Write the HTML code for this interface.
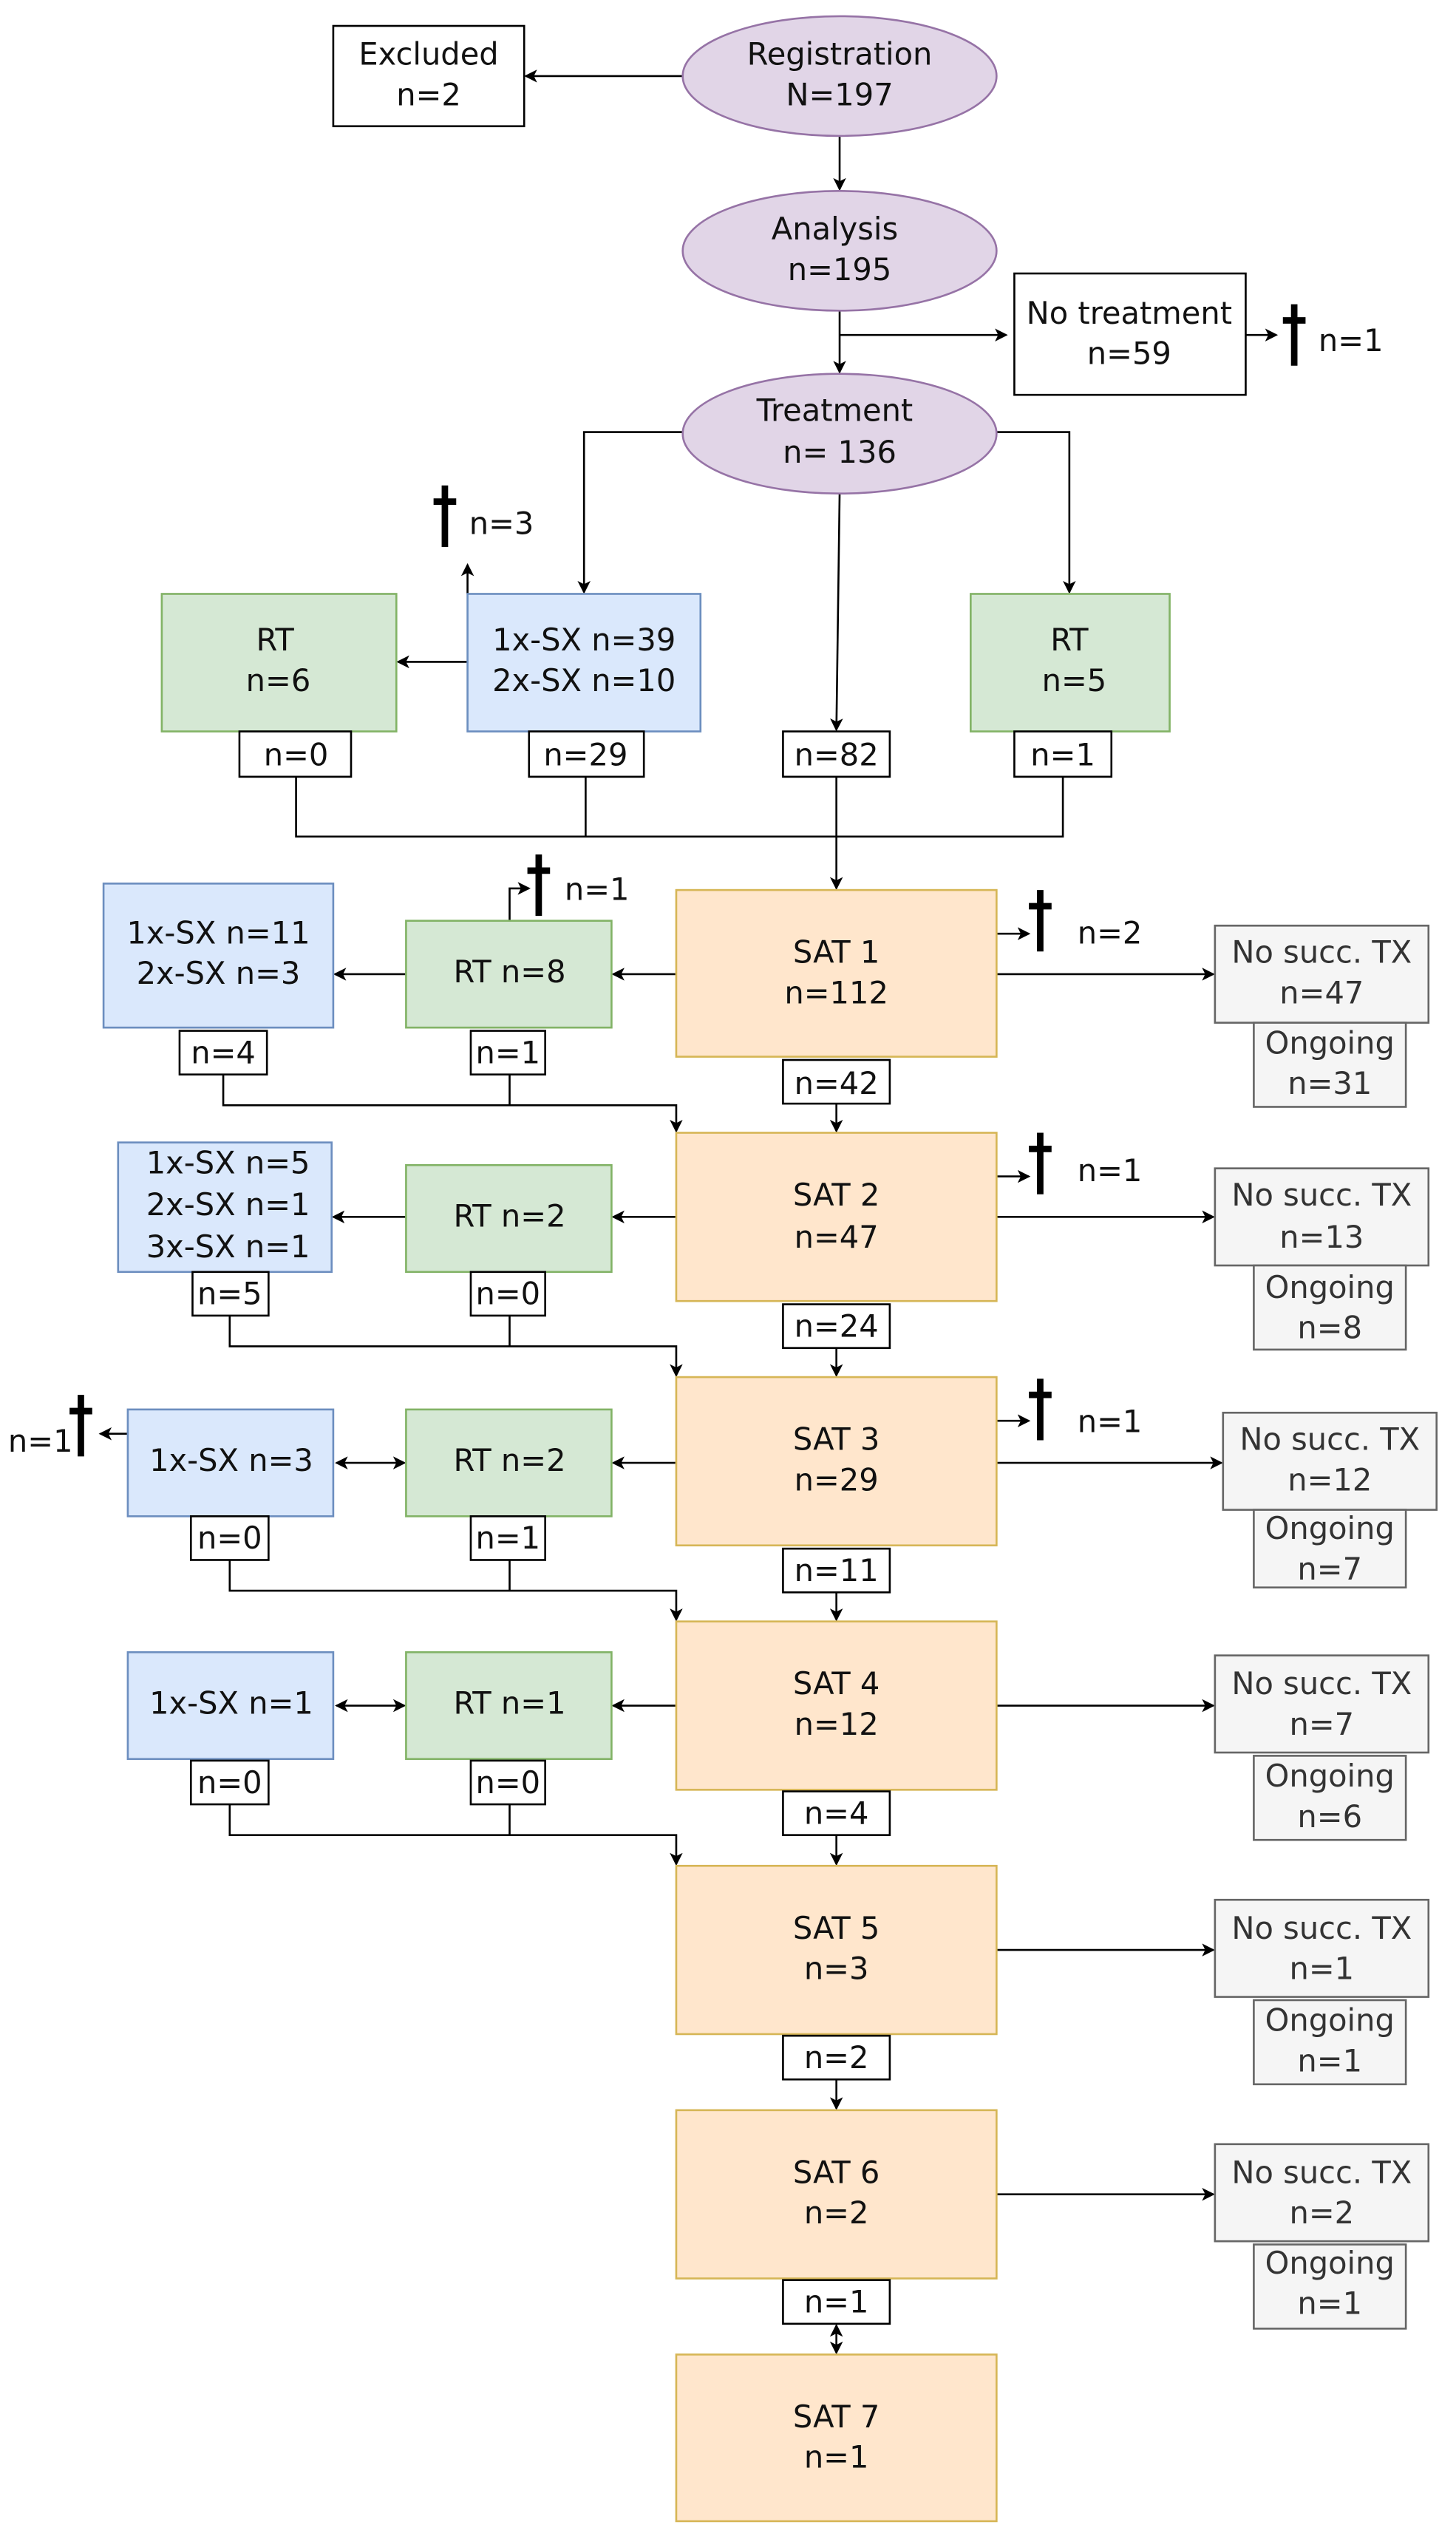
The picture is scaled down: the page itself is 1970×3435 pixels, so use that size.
<!DOCTYPE html>
<html><head><meta charset="utf-8"><style>
html,body{margin:0;padding:0;background:#fff;}
svg{display:block;}
text{font-family:"DejaVu Sans","Liberation Sans",sans-serif;font-size:19px;text-anchor:middle;dominant-baseline:middle;fill:#111;}
.g text,text.g{fill:#333;}
</style></head><body>
<svg width="1970" height="3435" viewBox="0 0 900 1569" preserveAspectRatio="none" xmlns="http://www.w3.org/2000/svg">
<defs>
<marker id="a" markerWidth="8" markerHeight="8" refX="7" refY="4" orient="auto" markerUnits="userSpaceOnUse"><path d="M0,0 L8,4 L0,8 L2,4 z" fill="#000"/></marker>
<marker id="s" markerWidth="8" markerHeight="8" refX="1" refY="4" orient="auto" markerUnits="userSpaceOnUse"><path d="M8,0 L0,4 L8,8 L6,4 z" fill="#000"/></marker>
<g id="dg"><line x1="0" y1="0" x2="0" y2="38" stroke="#000" stroke-width="4"/><line x1="-7" y1="10" x2="7" y2="10" stroke="#000" stroke-width="4"/></g>
</defs>
<g fill="none" stroke="#000" stroke-width="1.2">
<!-- top -->
<line x1="422" y1="47" x2="325" y2="47" marker-end="url(#a)"/>
<line x1="519" y1="84" x2="519" y2="117" marker-end="url(#a)"/>
<line x1="519" y1="192" x2="519" y2="230" marker-end="url(#a)"/>
<line x1="519" y1="207" x2="622" y2="207" marker-end="url(#a)"/>
<line x1="770" y1="207" x2="789" y2="207" marker-end="url(#a)"/>
<polyline points="422,267 361,267 361,366" marker-end="url(#a)"/>
<polyline points="616,267 661,267 661,366" marker-end="url(#a)"/>
<line x1="519" y1="305" x2="517" y2="451" marker-end="url(#a)"/>
<line x1="289" y1="409" x2="246" y2="409" marker-end="url(#a)"/>
<line x1="289" y1="367" x2="289" y2="349" marker-end="url(#a)"/>
<polyline points="183,480 183,517 657,517 657,480"/>
<line x1="362" y1="480" x2="362" y2="517"/>
<line x1="517" y1="480" x2="517" y2="549" marker-end="url(#a)"/>
<!-- SAT1 -->
<line x1="418" y1="602" x2="379" y2="602" marker-end="url(#a)"/>
<line x1="251" y1="602" x2="207" y2="602" marker-end="url(#a)"/>
<polyline points="315,569 315,549 327,549" marker-end="url(#a)"/>
<line x1="616" y1="577" x2="636" y2="577" marker-end="url(#a)"/>
<line x1="616" y1="602" x2="750" y2="602" marker-end="url(#a)"/>
<polyline points="138,664 138,683 418,683 418,699" marker-end="url(#a)"/>
<line x1="315" y1="664" x2="315" y2="683"/>
<line x1="517" y1="682" x2="517" y2="699" marker-end="url(#a)"/>
<!-- SAT2 -->
<line x1="418" y1="752" x2="379" y2="752" marker-end="url(#a)"/>
<line x1="251" y1="752" x2="206" y2="752" marker-end="url(#a)"/>
<line x1="616" y1="727" x2="636" y2="727" marker-end="url(#a)"/>
<line x1="616" y1="752" x2="750" y2="752" marker-end="url(#a)"/>
<polyline points="142,813 142,832 418,832 418,850" marker-end="url(#a)"/>
<line x1="315" y1="813" x2="315" y2="832"/>
<line x1="517" y1="833" x2="517" y2="850" marker-end="url(#a)"/>
<!-- SAT3 -->
<line x1="418" y1="904" x2="379" y2="904" marker-end="url(#a)"/>
<line x1="208" y1="904" x2="250" y2="904" marker-end="url(#a)" marker-start="url(#s)"/>
<line x1="79" y1="886" x2="62" y2="886" marker-end="url(#a)"/>
<line x1="616" y1="878" x2="636" y2="878" marker-end="url(#a)"/>
<line x1="616" y1="904" x2="755" y2="904" marker-end="url(#a)"/>
<polyline points="142,964 142,983 418,983 418,1001" marker-end="url(#a)"/>
<line x1="315" y1="964" x2="315" y2="983"/>
<line x1="517" y1="984" x2="517" y2="1001" marker-end="url(#a)"/>
<!-- SAT4 -->
<line x1="418" y1="1054" x2="379" y2="1054" marker-end="url(#a)"/>
<line x1="208" y1="1054" x2="250" y2="1054" marker-end="url(#a)" marker-start="url(#s)"/>
<line x1="616" y1="1054" x2="750" y2="1054" marker-end="url(#a)"/>
<polyline points="142,1115 142,1134 418,1134 418,1152" marker-end="url(#a)"/>
<line x1="315" y1="1115" x2="315" y2="1134"/>
<line x1="517" y1="1134" x2="517" y2="1152" marker-end="url(#a)"/>
<!-- SAT5/6/7 -->
<line x1="616" y1="1205" x2="750" y2="1205" marker-end="url(#a)"/>
<line x1="517" y1="1285" x2="517" y2="1303" marker-end="url(#a)"/>
<line x1="616" y1="1356" x2="750" y2="1356" marker-end="url(#a)"/>
<line x1="517" y1="1437" x2="517" y2="1454" marker-end="url(#a)" marker-start="url(#s)"/>
</g>

<!-- ellipses -->
<g fill="#e1d5e7" stroke="#9673a6" stroke-width="1.2">
<ellipse cx="519" cy="47" rx="97" ry="37"/>
<ellipse cx="519" cy="155" rx="97" ry="37"/>
<ellipse cx="519" cy="268" rx="97" ry="37"/>
</g>
<text x="519" y="35">Registration</text><text x="519" y="60">N=197</text>
<text x="516" y="143">Analysis</text><text x="519" y="168">n=195</text>
<text x="516" y="255">Treatment</text><text x="519" y="281">n= 136</text>

<!-- white boxes -->
<g fill="#fff" stroke="#000" stroke-width="1.2">
<rect x="206" y="16" width="118" height="62"/>
<rect x="627" y="169" width="143" height="75"/>
</g>
<text x="265" y="35">Excluded</text><text x="265" y="60">n=2</text>
<text x="698" y="195">No treatment</text><text x="698" y="220">n=59</text>

<!-- green -->
<g fill="#d5e8d4" stroke="#82b366" stroke-width="1.2">
<rect x="100" y="367" width="145" height="85"/>
<rect x="600" y="367" width="123" height="85"/>
<rect x="251" y="569" width="127" height="66"/>
<rect x="251" y="720" width="127" height="66"/>
<rect x="251" y="871" width="127" height="66"/>
<rect x="251" y="1021" width="127" height="66"/>
</g>
<text x="170" y="397">RT</text><text x="172" y="422">n=6</text>
<text x="661" y="397">RT</text><text x="664" y="422">n=5</text>
<text x="315" y="602">RT n=8</text>
<text x="315" y="753">RT n=2</text>
<text x="315" y="904">RT n=2</text>
<text x="315" y="1054">RT n=1</text>

<!-- blue -->
<g fill="#dae8fc" stroke="#6c8ebf" stroke-width="1.2">
<rect x="289" y="367" width="144" height="85"/>
<rect x="64" y="546" width="142" height="89"/>
<rect x="73" y="706" width="132" height="80"/>
<rect x="79" y="871" width="127" height="66"/>
<rect x="79" y="1021" width="127" height="66"/>
</g>
<text x="361" y="397">1x-SX n=39</text><text x="361" y="422">2x-SX n=10</text>
<text x="135" y="578">1x-SX n=11</text><text x="135" y="603">2x-SX n=3</text>
<text x="141" y="720">1x-SX n=5</text><text x="141" y="746">2x-SX n=1</text><text x="141" y="772">3x-SX n=1</text>
<text x="143" y="904">1x-SX n=3</text>
<text x="143" y="1054">1x-SX n=1</text>

<!-- SAT boxes -->
<g fill="#ffe6cc" stroke="#d6b656" stroke-width="1.2">
<rect x="418" y="550" width="198" height="103"/>
<rect x="418" y="700" width="198" height="104"/>
<rect x="418" y="851" width="198" height="104"/>
<rect x="418" y="1002" width="198" height="104"/>
<rect x="418" y="1153" width="198" height="104"/>
<rect x="418" y="1304" width="198" height="104"/>
<rect x="418" y="1455" width="198" height="103"/>
</g>
<text x="517" y="590">SAT 1</text><text x="517" y="615">n=112</text>
<text x="517" y="740">SAT 2</text><text x="517" y="766">n=47</text>
<text x="517" y="891">SAT 3</text><text x="517" y="916">n=29</text>
<text x="517" y="1042">SAT 4</text><text x="517" y="1067">n=12</text>
<text x="517" y="1193">SAT 5</text><text x="517" y="1218">n=3</text>
<text x="517" y="1344">SAT 6</text><text x="517" y="1369">n=2</text>
<text x="517" y="1495">SAT 7</text><text x="517" y="1520">n=1</text>

<!-- gray -->
<g fill="#f5f5f5" stroke="#666" stroke-width="1.2">
<rect x="751" y="572" width="132" height="60"/><rect x="775" y="632" width="94" height="52"/>
<rect x="751" y="722" width="132" height="60"/><rect x="775" y="782" width="94" height="52"/>
<rect x="756" y="873" width="132" height="60"/><rect x="775" y="933" width="94" height="48"/>
<rect x="751" y="1023" width="132" height="60"/><rect x="775" y="1085" width="94" height="52"/>
<rect x="751" y="1174" width="132" height="60"/><rect x="775" y="1236" width="94" height="52"/>
<rect x="751" y="1325" width="132" height="60"/><rect x="775" y="1387" width="94" height="52"/>
</g>
<g class="g">
<text class="g" x="817" y="590">No succ. TX</text><text class="g" x="817" y="615">n=47</text>
<text class="g" x="822" y="646">Ongoing</text><text class="g" x="822" y="671">n=31</text>
<text class="g" x="817" y="740">No succ. TX</text><text class="g" x="817" y="766">n=13</text>
<text class="g" x="822" y="797">Ongoing</text><text class="g" x="822" y="822">n=8</text>
<text class="g" x="822" y="891">No succ. TX</text><text class="g" x="822" y="916">n=12</text>
<text class="g" x="822" y="946">Ongoing</text><text class="g" x="822" y="971">n=7</text>
<text class="g" x="817" y="1042">No succ. TX</text><text class="g" x="817" y="1067">n=7</text>
<text class="g" x="822" y="1099">Ongoing</text><text class="g" x="822" y="1124">n=6</text>
<text class="g" x="817" y="1193">No succ. TX</text><text class="g" x="817" y="1218">n=1</text>
<text class="g" x="822" y="1250">Ongoing</text><text class="g" x="822" y="1275">n=1</text>
<text class="g" x="817" y="1344">No succ. TX</text><text class="g" x="817" y="1369">n=2</text>
<text class="g" x="822" y="1400">Ongoing</text><text class="g" x="822" y="1425">n=1</text>
</g>

<!-- small count boxes -->
<g fill="#fff" stroke="#000" stroke-width="1.2">
<rect x="148" y="452" width="69" height="28"/><rect x="327" y="452" width="71" height="28"/>
<rect x="484" y="452" width="66" height="28"/><rect x="627" y="452" width="60" height="28"/>
<rect x="111" y="637" width="54" height="27"/><rect x="291" y="637" width="46" height="27"/><rect x="484" y="655" width="66" height="27"/>
<rect x="119" y="786" width="47" height="27"/><rect x="291" y="786" width="46" height="27"/><rect x="484" y="806" width="66" height="27"/>
<rect x="118" y="937" width="48" height="27"/><rect x="291" y="937" width="46" height="27"/><rect x="484" y="957" width="66" height="27"/>
<rect x="118" y="1088" width="48" height="27"/><rect x="291" y="1088" width="46" height="27"/><rect x="484" y="1107" width="66" height="27"/>
<rect x="484" y="1258" width="66" height="27"/>
<rect x="484" y="1409" width="66" height="27"/>
</g>
<text x="183" y="468">n=0</text><text x="362" y="468">n=29</text><text x="517" y="468">n=82</text><text x="657" y="468">n=1</text>
<text x="138" y="652">n=4</text><text x="314" y="652">n=1</text><text x="517" y="671">n=42</text>
<text x="142" y="801">n=5</text><text x="314" y="801">n=0</text><text x="517" y="821">n=24</text>
<text x="142" y="952">n=0</text><text x="314" y="952">n=1</text><text x="517" y="972">n=11</text>
<text x="142" y="1103">n=0</text><text x="314" y="1103">n=0</text><text x="517" y="1122">n=4</text>
<text x="517" y="1273">n=2</text>
<text x="517" y="1424">n=1</text>

<!-- daggers -->
<use href="#dg" x="800" y="188"/><text x="835" y="212">n=1</text>
<use href="#dg" x="275" y="300"/><text x="310" y="325">n=3</text>
<use href="#dg" x="333" y="528"/><text x="369" y="551">n=1</text>
<use href="#dg" x="643" y="550"/><text x="686" y="578">n=2</text>
<use href="#dg" x="643" y="700"/><text x="686" y="725">n=1</text>
<use href="#dg" x="643" y="852"/><text x="686" y="880">n=1</text>
<use href="#dg" x="50" y="862"/><text x="25" y="892">n=1</text>
</svg>
</body></html>
